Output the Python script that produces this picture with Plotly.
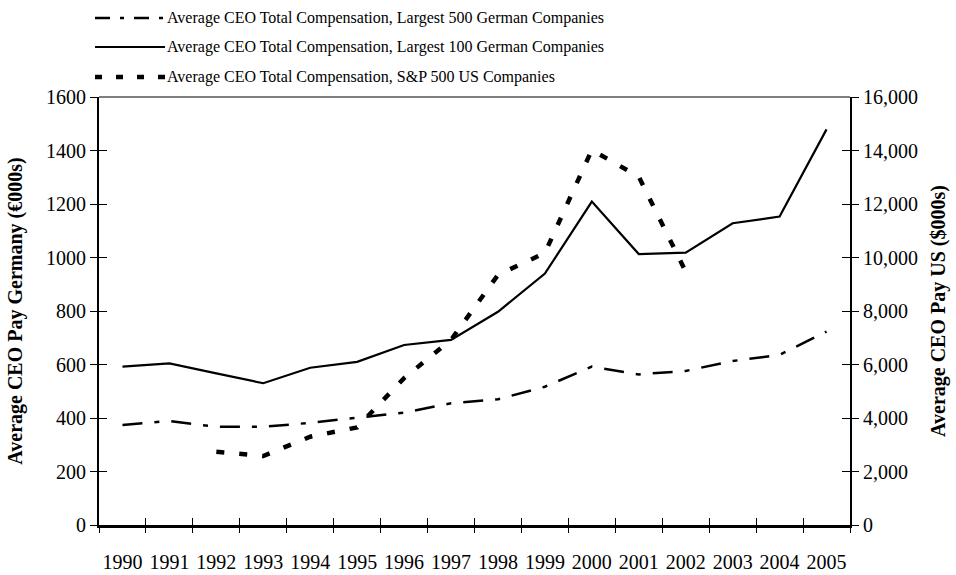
import plotly.graph_objects as go

years = list(range(1990, 2006))
year_labels = [str(y) for y in years]
de500 = [374, 389, 367, 367, 382, 401, 420, 455, 470, 517, 592, 563, 576, 613, 636, 723]
de100 = [592, 604, 567, 530, 588, 610, 673, 692, 797, 940, 1209, 1013, 1018, 1128, 1153, 1479]
us500 = [None, None, 2740, 2580, 3300, 3650, 5490, 6920, 9350, 10170, 14020, 13020, 9470, None, None, None]

names = [
    "Average CEO Total Compensation, Largest 500 German Companies",
    "Average CEO Total Compensation, Largest 100 German Companies",
    "Average CEO Total Compensation, S&P 500 US Companies",
]

boundaries = [y - 0.5 for y in years] + [years[-1] + 0.5]
FONT = "Liberation Serif"

styles = [
    dict(color="black", width=2.5, dash="20px,12px,5px,12px"),
    dict(color="black", width=2.2, dash="solid"),
    dict(color="black", width=4.5, dash="8px,15px"),
]

fig = go.Figure()
fig.add_trace(go.Scatter(x=years, y=de500, name=names[0], mode="lines", line=styles[0]))
fig.add_trace(go.Scatter(x=years, y=de100, name=names[1], mode="lines", line=styles[1]))
fig.add_trace(go.Scatter(x=years, y=us500, name=names[2], mode="lines", yaxis="y2", line=styles[2]))

# legend drawn as key lines + labels above the plot area
legend_y = [1.1846, 1.1168, 1.0467]
shapes = [dict(type="line", xref="paper", yref="paper", x0=0, x1=1, y0=1, y1=1,
               line=dict(color="black", width=1.2))]
annotations = []
leg_dash = ["15px,10px,4px,10px", "solid", "7px,14px"]
leg_width = [2.5, 2.2, 4.5]
for i, nm in enumerate(names):
    shapes.append(dict(type="line", xref="paper", yref="paper", x0=-0.0053, x1=0.0879,
                       y0=legend_y[i], y1=legend_y[i],
                       line=dict(color="black", width=leg_width[i], dash=leg_dash[i])))
    annotations.append(dict(text=nm, xref="paper", yref="paper", x=0.0878, y=legend_y[i],
                            xanchor="left", yanchor="middle", showarrow=False,
                            font=dict(family=FONT, size=16, color="black")))

tick_axis = dict(range=[boundaries[0], boundaries[-1]], tickvals=boundaries, tickcolor="black",
                 tickwidth=1.2, ticklen=7, showticklabels=False, showgrid=False,
                 zeroline=False, showline=False, overlaying="x", anchor="y")

fig.update_layout(
    width=956, height=575,
    margin=dict(l=99, r=106, t=97, b=50, autoexpand=False),
    paper_bgcolor="white", plot_bgcolor="white",
    font=dict(family=FONT, color="black", size=20),
    showlegend=False,
    xaxis=dict(
        range=[boundaries[0], boundaries[-1]],
        tickvals=years, ticktext=year_labels, ticks="", ticklabelstandoff=17,
        showline=True, linecolor="black", linewidth=2.5, showgrid=False, zeroline=False,
        tickfont=dict(family=FONT, size=20),
    ),
    xaxis2=dict(tick_axis, ticks="outside"),
    xaxis3=dict(tick_axis, ticks="inside"),
    yaxis=dict(
        range=[0, 1600], dtick=200, ticks="outside", ticklen=7, tickcolor="black", tickwidth=1.2,
        showline=True, linecolor="black", linewidth=1.8, showgrid=False, zeroline=False,
        tickfont=dict(family=FONT, size=20),
        title=dict(text="<b>Average CEO Pay Germany (€000s)</b>", font=dict(family=FONT, size=20), standoff=18),
    ),
    yaxis2=dict(
        range=[0, 16000], dtick=2000, tickformat=",", overlaying="y", side="right", anchor="x",
        ticks="outside", ticklen=7, tickcolor="black", tickwidth=1.2,
        showline=True, linecolor="black", linewidth=1.8, showgrid=False, zeroline=False,
        tickfont=dict(family=FONT, size=20),
        title=dict(text="<b>Average CEO Pay US ($000s)</b>", font=dict(family=FONT, size=20), standoff=14),
    ),
    yaxis3=dict(
        range=[0, 1600], dtick=200, overlaying="y", anchor="x", side="left",
        ticks="inside", ticklen=8, tickcolor="black", tickwidth=1.2,
        showticklabels=False, showgrid=False, zeroline=False, showline=False,
    ),
    yaxis4=dict(
        range=[0, 16000], dtick=2000, overlaying="y", anchor="x", side="right",
        ticks="inside", ticklen=8, tickcolor="black", tickwidth=1.2,
        showticklabels=False, showgrid=False, zeroline=False, showline=False,
    ),
    shapes=shapes,
    annotations=annotations,
)

# invisible helper traces so the overlay tick axes are drawn
fig.add_trace(go.Scatter(x=[None], y=[None], xaxis="x2", yaxis="y3", showlegend=False, hoverinfo="skip"))
fig.add_trace(go.Scatter(x=[None], y=[None], xaxis="x3", yaxis="y4", showlegend=False, hoverinfo="skip"))

fig.write_html("out.html", config={"displayModeBar": False},
               post_script="document.body.style.margin='0';document.body.style.overflow='hidden';")
